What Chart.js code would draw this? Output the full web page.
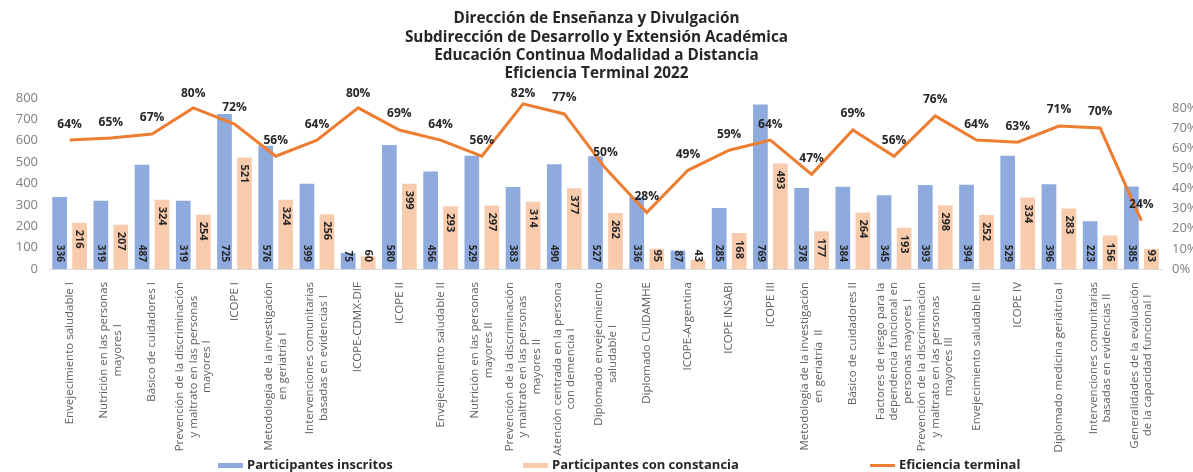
<!DOCTYPE html>
<html lang="es">
<head>
    <meta charset="UTF-8">
    <title>Eficiencia Terminal 2022</title>
    <script src="https://cdn.jsdelivr.net/npm/chart.js"></script>
    <style>
        body {
            margin: 0;
            background: #ffffff;
        }

        .chart-container {
            position: relative;
            width: 1193px;
            height: 472px;
        }
    </style>
</head>
<body>
    <div class="chart-container">
        <canvas id="eficienciaChart"></canvas>
    </div>

    <script>
        const cursos = [
            ['Envejecimiento saludable I'],
            ['Nutrición en las personas', 'mayores I'],
            ['Básico de cuidadores I'],
            ['Prevención de la discriminación', 'y maltrato en las personas', 'mayores I'],
            ['ICOPE I'],
            ['Metodología de la investigación', 'en geriatría I'],
            ['Intervenciones comunitarias', 'basadas en evidencias I'],
            ['ICOPE-CDMX-DIF'],
            ['ICOPE II'],
            ['Envejecimiento saludable II'],
            ['Nutrición en las personas', 'mayores II'],
            ['Prevención de la discriminación', 'y maltrato en las personas', 'mayores II'],
            ['Atención centrada en la persona', 'con demencia I'],
            ['Diplomado envejecimiento', 'saludable I'],
            ['Diplomado CUIDAMHE'],
            ['ICOPE-Argentina'],
            ['ICOPE INSABI'],
            ['ICOPE III'],
            ['Metodología de la investigación', 'en geriatría  II'],
            ['Básico de cuidadores II'],
            ['Factores de riesgo para la', 'dependencia funcional en', 'personas mayores I'],
            ['Prevención de la discriminación', 'y maltrato en las personas', 'mayores III'],
            ['Envejecimiento saludable III'],
            ['ICOPE IV'],
            ['Diplomado medicina geriátrica I'],
            ['Intervenciones comunitarias', 'basadas en evidencias II'],
            ['Generalidades de la evaluación', 'de la capacidad funcional I']
        ];

        const inscritos = [336, 319, 487, 319, 725, 576, 399, 75, 580, 456, 529, 383, 490, 527,
            336, 87, 285, 769, 378, 384, 345, 393, 394, 529, 396, 223, 385];

        const conConstancia = [216, 207, 324, 254, 521, 324, 256, 60, 399, 293, 297, 314, 377, 262,
            95, 43, 168, 493, 177, 264, 193, 298, 252, 334, 283, 156, 93];

        // porcentaje de eficiencia terminal (constancia / inscritos)
        const eficiencia = [64, 65, 67, 80, 72, 56, 64, 80, 69, 64, 56, 82, 77, 50,
            28, 49, 59, 64, 47, 69, 56, 76, 64, 63, 71, 70, 24];

        const ticksParticipantes = [0, 100, 200, 300, 400, 500, 600, 700, 800];
        const ticksPorcentaje = [0, 10, 20, 30, 40, 50, 60, 70, 80];

        const FUENTE = '"Open Sans", sans-serif';
        const AZUL = '#8FAADC';
        const DURAZNO = '#F8CBAD';
        const NARANJA = '#ED7D31';

        // Etiquetas de valores: barras (giradas) y porcentajes sobre la línea
        const etiquetasValores = {
            id: 'etiquetasValores',
            afterDatasetsDraw(chart) {
                const ctx = chart.ctx;
                const base = chart.scales.y.getPixelForValue(0);
                ctx.save();
                ctx.fillStyle = '#262626';
                ctx.textBaseline = 'middle';

                chart.data.datasets.forEach((ds, i) => {
                    const meta = chart.getDatasetMeta(i);
                    meta.data.forEach((el, j) => {
                        const texto = ds.type === 'line' ? ds.data[j] + '%' : String(ds.data[j]);
                        if (ds.type === 'line') {
                            ctx.font = 'bold 12px ' + FUENTE;
                            ctx.textAlign = 'center';
                            // no dejar que la etiqueta suba demasiado sobre el área del gráfico
                            ctx.fillText(texto, el.x, Math.max(el.y - 16, chart.chartArea.top - 4));
                            return;
                        }
                        ctx.save();
                        if (ds.label === 'Participantes inscritos') {
                            ctx.font = 'bold 10px ' + FUENTE;
                            ctx.translate(el.x, base - 7);
                            ctx.rotate(Math.PI / 2);
                            ctx.textAlign = 'right';
                        } else {
                            ctx.font = 'bold 11px ' + FUENTE;
                            const largo = ctx.measureText(texto).width;
                            ctx.translate(el.x, Math.min(el.y + 7, base - 7 - largo));
                            ctx.rotate(Math.PI / 2);
                            ctx.textAlign = 'left';
                        }
                        ctx.fillText(texto, 0, 0);
                        ctx.restore();
                    });
                });
                ctx.restore();
            }
        };

        // Nombres de los cursos en vertical, centrados bajo cada grupo de barras
        const etiquetasCursos = {
            id: 'etiquetasCursos',
            afterDraw(chart) {
                const ctx = chart.ctx;
                const escala = chart.scales.x;
                const y0 = chart.chartArea.bottom + 13;
                const alto = 13.5;
                ctx.save();
                ctx.font = '11.5px ' + FUENTE;
                ctx.fillStyle = '#5f5f5f';
                ctx.textAlign = 'center';
                ctx.textBaseline = 'middle';
                cursos.forEach((lineas, i) => {
                    const x = escala.getPixelForValue(i);
                    const largo = Math.max(...lineas.map(l => ctx.measureText(l).width));
                    lineas.forEach((linea, k) => {
                        ctx.save();
                        ctx.translate(x + (k - (lineas.length - 1) / 2) * alto, y0 + largo / 2);
                        ctx.rotate(-Math.PI / 2);
                        ctx.fillText(linea, 0, 0);
                        ctx.restore();
                    });
                });
                ctx.restore();
            }
        };

        // Leyenda inferior
        const leyenda = {
            id: 'leyenda',
            afterDraw(chart) {
                const ctx = chart.ctx;
                const inicios = [218, 523, 870];
                const y = 465.5;
                const orden = [1, 2, 0];
                ctx.save();
                ctx.font = 'bold 13px ' + FUENTE;
                ctx.textBaseline = 'middle';
                ctx.textAlign = 'left';
                orden.forEach((idx, k) => {
                    const ds = chart.data.datasets[idx];
                    const x = inicios[k];
                    ctx.fillStyle = ds.type === 'line' ? ds.borderColor : ds.backgroundColor;
                    const h = ds.type === 'line' ? 3 : 5;
                    ctx.fillRect(x, y - h / 2, 25, h);
                    ctx.fillStyle = '#262626';
                    ctx.fillText(ds.label, x + 29, y);
                });
                ctx.restore();
            }
        };

        const ctx = document.getElementById('eficienciaChart').getContext('2d');
        const eficienciaChart = new Chart(ctx, {
            type: 'bar',
            data: {
                labels: cursos,
                datasets: [
                    {
                        type: 'line',
                        label: 'Eficiencia terminal',
                        data: eficiencia,
                        yAxisID: 'yPct',
                        borderColor: NARANJA,
                        backgroundColor: NARANJA,
                        borderWidth: 3,
                        pointRadius: 0,
                        tension: 0,
                        order: 0
                    },
                    {
                        label: 'Participantes inscritos',
                        data: inscritos,
                        yAxisID: 'y',
                        backgroundColor: AZUL,
                        categoryPercentage: 0.97,
                        barPercentage: 0.735,
                        order: 1
                    },
                    {
                        label: 'Participantes con constancia',
                        data: conConstancia,
                        yAxisID: 'y',
                        backgroundColor: DURAZNO,
                        categoryPercentage: 0.97,
                        barPercentage: 0.735,
                        order: 2
                    }
                ]
            },
            options: {
                responsive: true,
                maintainAspectRatio: false,
                animation: false,
                layout: { padding: 0 },
                plugins: {
                    legend: { display: false },
                    tooltip: { enabled: false },
                    title: {
                        display: true,
                        text: [
                            'Dirección de Enseñanza y Divulgación',
                            'Subdirección de Desarrollo y Extensión Académica',
                            'Educación Continua Modalidad a Distancia',
                            'Eficiencia Terminal 2022'
                        ],
                        color: '#262626',
                        font: { family: FUENTE, size: 15.3, weight: 'bold', lineHeight: 1.19 },
                        padding: { top: 10, bottom: 15 }
                    }
                },
                scales: {
                    x: {
                        grid: { display: false, drawTicks: false },
                        border: { display: true, color: '#D9D9D9', width: 1 },
                        ticks: { display: false },
                        afterFit: s => { s.height = 203; }
                    },
                    y: {
                        position: 'left',
                        min: 0,
                        max: 800,
                        afterBuildTicks: s => { s.ticks = ticksParticipantes.map(v => ({ value: v })); },
                        grid: { display: false, drawTicks: false },
                        border: { display: false },
                        ticks: {
                            padding: 11,
                            color: '#808080',
                            font: { family: FUENTE, size: 13 }
                        },
                        afterFit: s => { s.width = 49; }
                    },
                    yPct: {
                        position: 'right',
                        min: 0,
                        max: 85,
                        afterBuildTicks: s => { s.ticks = ticksPorcentaje.map(v => ({ value: v })); },
                        grid: { display: false, drawTicks: false },
                        border: { display: false },
                        ticks: {
                            padding: 10,
                            color: '#808080',
                            font: { family: FUENTE, size: 13 },
                            callback: v => v + '%'
                        },
                        afterFit: s => { s.width = 31; }
                    }
                }
            },
            plugins: [etiquetasValores, etiquetasCursos, leyenda]
        });
    </script>
</body>
</html>
